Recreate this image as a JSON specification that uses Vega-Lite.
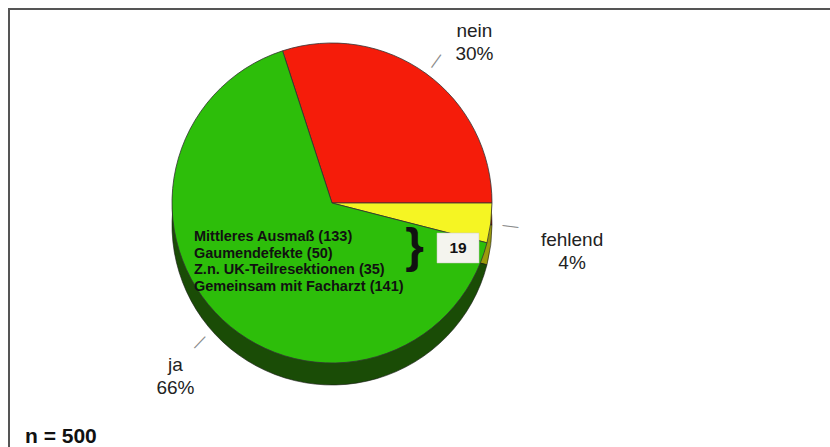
{
  "$schema": "https://vega.github.io/schema/vega-lite/v6.json",
  "width": 821,
  "height": 438,
  "autosize": {"type": "none"},
  "padding": {"left": 9, "top": 9, "right": 0, "bottom": 0},
  "background": "white",
  "view": {"stroke": "#555", "strokeWidth": 2, "strokeDash": [821, 1259, 438, 1259]},
  "title": {
    "text": "n = 500",
    "orient": "bottom",
    "anchor": "start",
    "offset": -21,
    "dx": 16,
    "fontSize": 21,
    "fontWeight": "bold",
    "font": "Liberation Sans",
    "color": "#111"
  },
  "config": {
    "view": {"stroke": "#555", "strokeWidth": 2},
    "font": "Liberation Sans"
  },
  "datasets": {
    "antworten": [
      {"antwort": "nein", "anteil": 30, "nr": 1, "label": "nein\n30%"},
      {"antwort": "fehlend", "anteil": 4, "nr": 2, "label": "fehlend\n4%"},
      {"antwort": "ja", "anteil": 66, "nr": 3, "label": "ja\n66%"}
    ],
    "untergruppen": [
      {"notiz": "Mittleres Ausmaß (133)\nGaumendefekte (50)\nZ.n. UK-Teilresektionen (35)\nGemeinsam mit Facharzt (141)", "anzahl": 19}
    ]
  },
  "layer": [
    {
      "data": {"name": "antworten"},
      "mark": {"type": "arc", "outerRadius": 160, "xOffset": -87.5, "yOffset": -17},
      "encoding": {
        "theta": {"field": "anteil", "type": "quantitative", "stack": true, "scale": {"range": [-0.314, 5.969]}},
        "order": {"field": "nr", "type": "quantitative"},
        "fill": {"field": "antwort", "type": "nominal", "scale": {"domain": ["nein", "fehlend", "ja"], "range": ["#7A0E05", "#9A9A0C", "#1A4C06"]}, "legend": null}
      }
    },
    {
      "data": {"name": "antworten"},
      "mark": {"type": "arc", "outerRadius": 160, "xOffset": -87.5, "yOffset": -10},
      "encoding": {
        "theta": {"field": "anteil", "type": "quantitative", "stack": true},
        "order": {"field": "nr", "type": "quantitative"},
        "fill": {"field": "antwort", "type": "nominal", "legend": null}
      }
    },
    {
      "data": {"name": "antworten"},
      "mark": {"type": "arc", "outerRadius": 160, "xOffset": -87.5, "yOffset": -3, "stroke": "#1a1a1a", "strokeWidth": 0.6},
      "encoding": {
        "theta": {"field": "anteil", "type": "quantitative", "stack": true},
        "order": {"field": "nr", "type": "quantitative"},
        "fill": {"field": "antwort", "type": "nominal", "legend": null}
      }
    },
    {
      "data": {"name": "antworten"},
      "mark": {"type": "arc", "outerRadius": 160, "xOffset": -87.5, "yOffset": -25, "stroke": "#333", "strokeWidth": 0.8},
      "encoding": {
        "theta": {"field": "anteil", "type": "quantitative", "stack": true},
        "order": {"field": "nr", "type": "quantitative"},
        "color": {"field": "antwort", "type": "nominal", "scale": {"domain": ["nein", "fehlend", "ja"], "range": ["#F51C0A", "#F5F523", "#2DBE0A"]}, "legend": null}
      }
    },
    {
      "data": {"name": "antworten"},
      "mark": {"type": "text", "text": "—", "radius": {"expr": "datum.antwort === 'fehlend' ? 180 : datum.antwort === 'ja' ? 192 : 176"}, "angle": {"expr": "datum.antwort === 'fehlend' ? 7 : datum.antwort === 'ja' ? 133 : -54"}, "xOffset": -87.5, "yOffset": -25, "fontSize": 16, "color": "#8a8a8a", "align": "center", "baseline": "middle"},
      "encoding": {
        "theta": {"field": "anteil", "type": "quantitative", "stack": true},
        "order": {"field": "nr", "type": "quantitative"}
      }
    },
    {
      "data": {"name": "antworten"},
      "mark": {"type": "text", "radius": {"expr": "datum.antwort === 'fehlend' ? 242 : datum.antwort === 'ja' ? 220 : 215"}, "dx": {"expr": "datum.antwort === 'nein' ? 16 : datum.antwort === 'ja' ? -6 : 0"}, "dy": {"expr": "datum.antwort === 'fehlend' ? 7 : 2"}, "xOffset": -87.5, "yOffset": -25, "fontSize": 19, "lineHeight": 23, "lineBreak": "\n", "color": "#222", "align": "center", "baseline": "middle"},
      "encoding": {
        "theta": {"field": "anteil", "type": "quantitative", "stack": true},
        "order": {"field": "nr", "type": "quantitative"},
        "text": {"field": "label", "type": "nominal"}
      }
    },
    {
      "data": {"name": "untergruppen"},
      "mark": {"type": "text", "align": "left", "baseline": "middle", "fontSize": 14.5, "fontWeight": "bold", "lineHeight": 16.5, "lineBreak": "\n", "color": "#111", "xOffset": -225.5, "yOffset": 9},
      "encoding": {"text": {"field": "notiz", "type": "nominal"}}
    },
    {
      "data": {"name": "untergruppen"},
      "mark": {"type": "text", "text": "}", "align": "center", "baseline": "middle", "fontSize": 48, "fontWeight": "bold", "color": "#111", "xOffset": -5, "yOffset": 20},
      "encoding": {}
    },
    {
      "data": {"name": "untergruppen"},
      "mark": {"type": "point", "shape": "M-1,-0.714H1V0.714H-1Z", "size": 1764, "filled": true, "fill": "#F4F4EE", "stroke": "#c8c8c0", "strokeWidth": 0.5, "opacity": 1, "xOffset": 38.5, "yOffset": 20},
      "encoding": {}
    },
    {
      "data": {"name": "untergruppen"},
      "mark": {"type": "text", "align": "center", "baseline": "middle", "fontSize": 15.5, "fontWeight": "bold", "color": "#111", "xOffset": 38.5, "yOffset": 20},
      "encoding": {"text": {"field": "anzahl", "type": "quantitative"}}
    }
  ]
}
